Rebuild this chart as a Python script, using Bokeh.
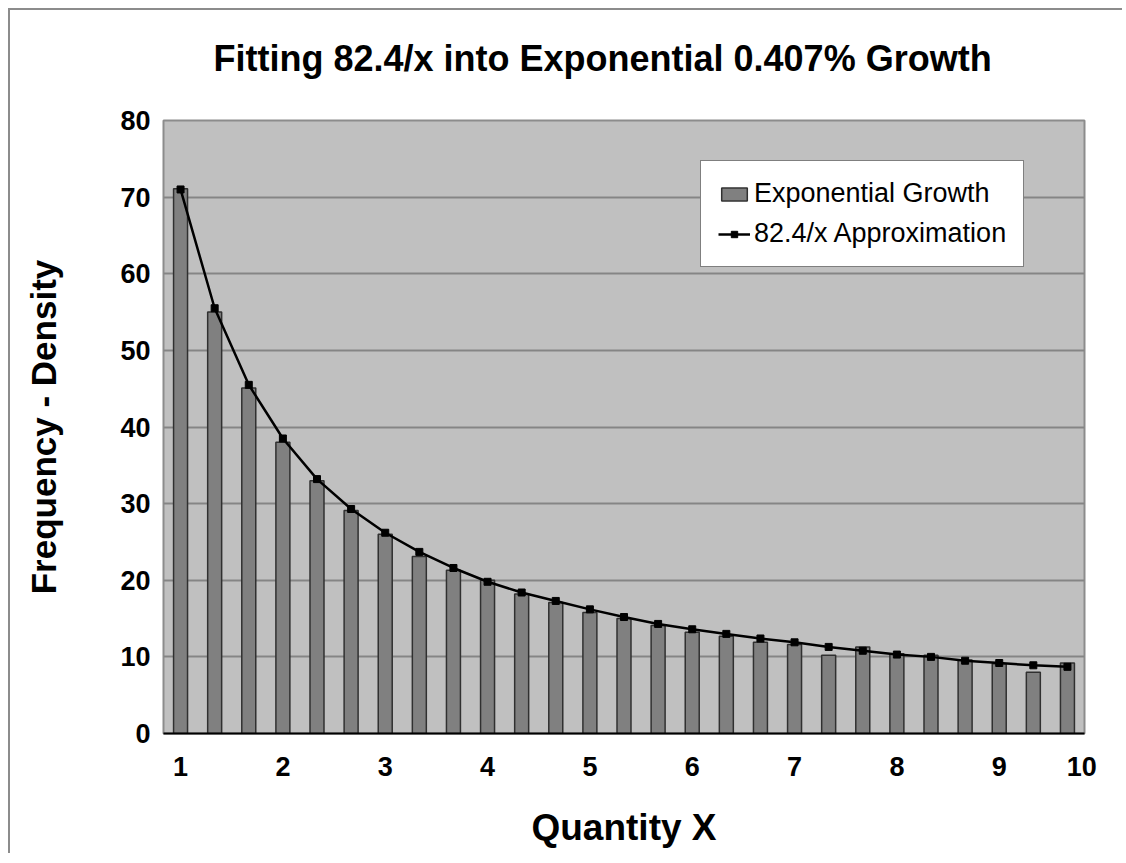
from bokeh.plotting import figure
from bokeh.models import Range1d, FixedTicker, Legend, LegendItem, Title
from bokeh.embed import file_html
from bokeh.resources import INLINE

# Bin values (3 bins per unit of x, from 1 to 10)
exp_growth = [71.1, 55.0, 45.1, 38.0, 33.0, 29.1, 26.0, 23.1, 21.3, 20.0,
              18.2, 17.1, 15.8, 15.0, 14.1, 13.2, 12.7, 11.9, 11.6, 10.2,
              11.3, 10.4, 10.2, 9.6, 9.1, 8.0, 9.2]
approx = [71.0, 55.5, 45.5, 38.5, 33.2, 29.3, 26.2, 23.7, 21.6, 19.8,
          18.4, 17.3, 16.2, 15.2, 14.3, 13.6, 13.0, 12.4, 11.9, 11.3,
          10.8, 10.3, 10.0, 9.5, 9.2, 8.9, 8.7]
x_tick_labels = ["1", "2", "3", "4", "5", "6", "7", "8", "9", "10"]
bins_per_unit = 3
title_text = "Fitting 82.4/x into Exponential 0.407% Growth"

FONT = "Liberation Sans"
n = len(exp_growth)
idx = list(range(n))

p = figure(width=1114, height=845, output_backend="svg", toolbar_location=None,
           x_range=Range1d(-0.5, n - 0.5), y_range=Range1d(0, 80),
           min_border_left=153, min_border_right=40, min_border_top=110,
           min_border_bottom=122, title=title_text,
           styles={"margin-left": "8px", "margin-top": "8px",
                   "border-left": "2px solid #8c8c8c", "border-top": "2px solid #8c8c8c"})

p.background_fill_color = "#c0c0c0"
p.border_fill_color = "white"
p.outline_line_color = "#8c8c8c"
p.outline_line_width = 2

p.title.text_font = FONT
p.title.text_font_size = "36px"
p.title.text_font_style = "bold"
p.title.text_color = "black"
p.title.align = "left"
p.title.offset = 50
p.title.vertical_align = "top"
p.title.standoff = 53

# blank spacer between the title and the plot frame
p.add_layout(Title(text=" ", text_font_size="10px", standoff=0), "above")

# grid
p.xgrid.grid_line_color = None
p.ygrid.grid_line_color = "#858585"
p.ygrid.grid_line_width = 2

# bars
bar_r = p.vbar(x=idx, top=exp_growth, width=0.41, bottom=0,
               fill_color="#808080", line_color="#303030", line_width=1.5)
# approximation line
line_r = p.line(x=idx, y=approx, line_color="black", line_width=2.5)
mark_r = p.scatter(x=idx, y=approx, marker="square", size=7,
                   fill_color="black", line_color="black")

# axes
tick_pos = [i * bins_per_unit for i in range(len(x_tick_labels) - 1)] + [n - 0.58]
p.xaxis.ticker = FixedTicker(ticks=tick_pos)
p.xaxis.major_label_overrides = {t: lab for t, lab in zip(tick_pos, x_tick_labels)}
p.yaxis.ticker = FixedTicker(ticks=list(range(0, 81, 10)))

for ax in (p.xaxis[0], p.yaxis[0]):
    ax.major_tick_line_color = None
    ax.minor_tick_line_color = None
    ax.major_tick_out = 0
    ax.major_tick_in = 0
    ax.minor_tick_out = 0
    ax.major_label_text_font = FONT
    ax.major_label_text_font_style = "bold"
    ax.major_label_text_font_size = "27px"
    ax.major_label_text_color = "black"
    ax.axis_label_text_font = FONT
    ax.axis_label_text_font_style = "bold"
    ax.axis_label_text_color = "black"

p.xaxis.axis_line_color = "black"
p.xaxis.axis_line_width = 2
p.yaxis.axis_line_color = None

p.xaxis.axis_label = "Quantity X"
p.xaxis.axis_label_text_font_size = "37px"
p.xaxis.major_label_standoff = 23
p.xaxis.axis_label_standoff = 28

p.yaxis.axis_label = "Frequency - Density"
p.yaxis.axis_label_text_font_size = "35px"
p.yaxis.major_label_standoff = 13
p.yaxis.axis_label_standoff = 54

legend = Legend(items=[LegendItem(label="Exponential Growth", renderers=[bar_r]),
                       LegendItem(label="82.4/x Approximation", renderers=[line_r, mark_r])],
                location=(537, 466))
legend.label_text_font = FONT
legend.label_text_font_size = "27px"
legend.label_text_color = "black"
legend.glyph_width = 32
legend.glyph_height = 16
legend.label_standoff = 4
legend.spacing = 9
legend.padding = 17
legend.margin = 0
legend.border_line_color = "black"
legend.border_line_width = 1.5
legend.background_fill_color = "white"
legend.background_fill_alpha = 1.0
p.add_layout(legend)

open("out.html", "w").write(file_html(p, INLINE))
